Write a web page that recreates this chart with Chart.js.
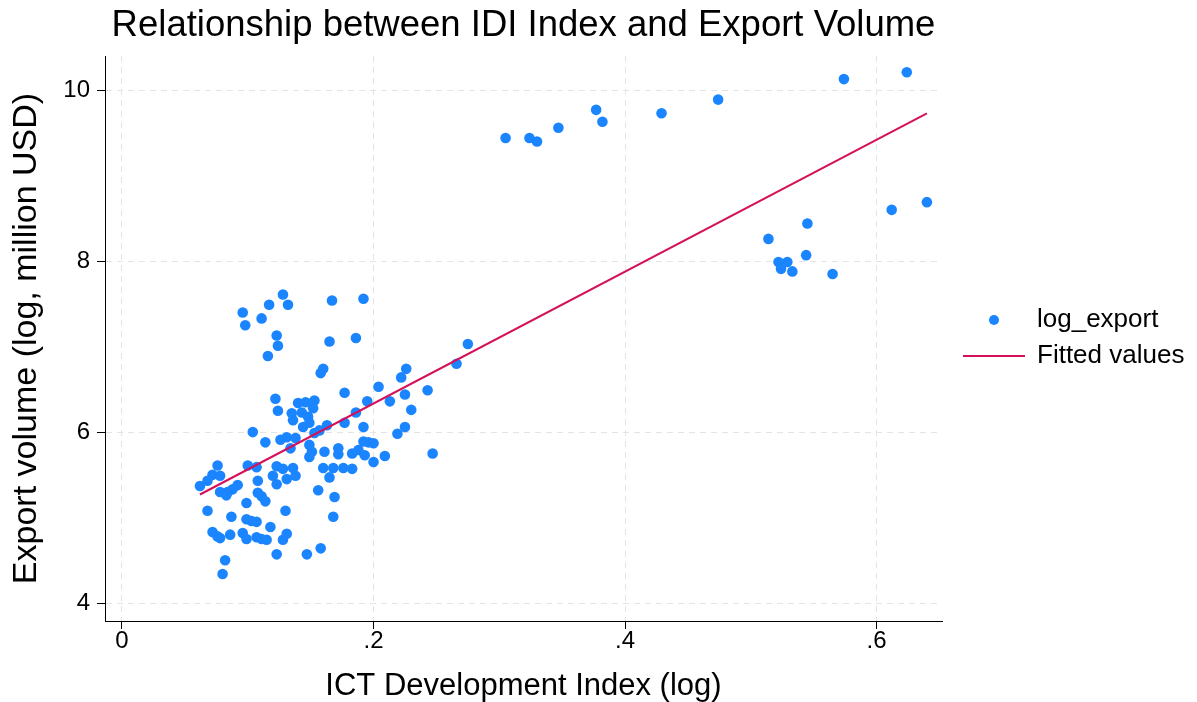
<!DOCTYPE html>
<html>
<head>
<meta charset="utf-8">
<script src="https://cdn.jsdelivr.net/npm/chart.js@4.4.1/dist/chart.umd.min.js"></script>
<style>
  html, body { margin: 0; padding: 0; background: #ffffff; }
  #wrap { width: 1197px; height: 702px; }
</style>
</head>
<body>
<div id="wrap"><canvas id="chart" width="1197" height="702"></canvas></div>
<script>
// ICT Development Index (log) per observation
const idiLog = [
  0.305, 0.324, 0.330, 0.347, 0.377, 0.382, 0.429, 0.474, 0.574, 0.624,
  0.640, 0.612, 0.514, 0.545, 0.544, 0.522, 0.529, 0.524, 0.533, 0.565,
  0.096, 0.098, 0.111, 0.117, 0.128, 0.132, 0.123, 0.124, 0.116, 0.167,
  0.192, 0.165, 0.186, 0.158, 0.160, 0.275, 0.266, 0.226, 0.222, 0.204,
  0.177, 0.243, 0.195, 0.213, 0.225, 0.230, 0.186, 0.122, 0.124, 0.140,
  0.146, 0.153, 0.152, 0.135, 0.143, 0.148, 0.136, 0.149, 0.144, 0.163,
  0.157, 0.177, 0.192, 0.225, 0.219, 0.104, 0.114, 0.126, 0.131, 0.138,
  0.134, 0.149, 0.151, 0.149, 0.161, 0.172, 0.172, 0.192, 0.196, 0.200,
  0.183, 0.188, 0.193, 0.200, 0.209, 0.247, 0.153, 0.076, 0.072, 0.078,
  0.062, 0.068, 0.100, 0.107, 0.123, 0.128, 0.120, 0.123, 0.131, 0.136,
  0.138, 0.108, 0.092, 0.088, 0.084, 0.078, 0.083, 0.111, 0.114, 0.099,
  0.156, 0.169, 0.168, 0.160, 0.165, 0.168, 0.176, 0.183, 0.068, 0.087,
  0.130, 0.099, 0.103, 0.107, 0.118, 0.072, 0.076, 0.078, 0.086, 0.096,
  0.099, 0.107, 0.111, 0.115, 0.128, 0.131, 0.123, 0.147, 0.158, 0.082,
  0.080, 0.108
];

// Export volume (log, million USD) per observation
const logExport = [
  9.44, 9.44, 9.40, 9.56, 9.77, 9.63, 9.73, 9.89, 10.13, 10.21,
  8.69, 8.60, 8.26, 8.44, 8.07, 7.99, 7.99, 7.91, 7.88, 7.85,
  7.40, 7.25, 7.33, 7.49, 7.61, 7.49, 7.13, 7.01, 6.89, 7.54,
  7.56, 7.06, 7.10, 6.69, 6.74, 7.03, 6.80, 6.74, 6.64, 6.53,
  6.46, 6.49, 6.36, 6.36, 6.44, 6.26, 6.23, 6.39, 6.25, 6.34,
  6.35, 6.37, 6.28, 6.22, 6.23, 6.18, 6.14, 6.11, 6.06, 6.08,
  6.02, 6.11, 6.06, 6.06, 5.98, 6.00, 5.88, 5.91, 5.94, 5.93,
  5.81, 5.85, 5.77, 5.71, 5.77, 5.81, 5.74, 5.89, 5.88, 5.87,
  5.75, 5.79, 5.73, 5.65, 5.72, 5.75, 5.99, 5.61, 5.50, 5.49,
  5.37, 5.43, 5.61, 5.59, 5.60, 5.57, 5.49, 5.39, 5.45, 5.58,
  5.49, 5.43, 5.38, 5.33, 5.30, 5.30, 5.26, 5.25, 5.19, 5.17,
  5.32, 5.24, 5.01, 5.58, 5.47, 5.58, 5.58, 5.57, 5.08, 5.01,
  5.08, 4.98, 4.96, 4.95, 4.89, 4.83, 4.78, 4.76, 4.80, 4.82,
  4.75, 4.77, 4.75, 4.74, 4.74, 4.81, 4.57, 4.57, 4.64, 4.50,
  4.34, 5.29
];

// Linear fit endpoints over the observed IDI range
const fitX = [0.062, 0.640];
const fitY = [5.27, 9.73];

// Axis ticks
const xTicks = [0, 0.2, 0.4, 0.6];
const xTickLabels = ['0', '.2', '.4', '.6'];
const yTicks = [4, 6, 8, 10];
const yTickLabels = ['4', '6', '8', '10'];

const seriesNames = ['log_export', 'Fitted values'];

const FONT = "'Liberation Sans', Arial, Helvetica, sans-serif";
const DOT_COLOR = '#1a85ff';
const FIT_COLOR = '#d41159';
const GRID_COLOR = '#e4e4e4';

const scatterPoints = idiLog.map((x, i) => ({ x: x, y: logExport[i] }));
const fitPoints = fitX.map((x, i) => ({ x: x, y: fitY[i] }));

// Legend to the right of the plot: a marker dot and a fit line sample
const sideLegend = {
  id: 'sideLegend',
  afterDraw(chart) {
    const ctx = chart.ctx;
    const area = chart.chartArea;
    const xText = area.right + 95;
    const yDot = 320;
    const yLine = 356;
    ctx.save();
    ctx.fillStyle = DOT_COLOR;
    ctx.beginPath();
    ctx.arc(area.right + 52, yDot, 5, 0, Math.PI * 2);
    ctx.fill();
    ctx.strokeStyle = FIT_COLOR;
    ctx.lineWidth = 2;
    ctx.beginPath();
    ctx.moveTo(area.right + 21, yLine);
    ctx.lineTo(area.right + 83, yLine);
    ctx.stroke();
    ctx.fillStyle = '#000';
    ctx.font = '26px ' + FONT;
    ctx.textAlign = 'left';
    ctx.textBaseline = 'middle';
    ctx.fillText(seriesNames[0], xText, yDot);
    ctx.fillText(seriesNames[1], xText, yLine);
    ctx.restore();
  }
};

const whiteBackground = {
  id: 'whiteBackground',
  beforeDraw(chart) {
    const ctx = chart.ctx;
    ctx.save();
    ctx.fillStyle = '#ffffff';
    ctx.fillRect(0, 0, chart.width, chart.height);
    ctx.restore();
  }
};

const gridOpts = {
  color: GRID_COLOR,
  lineWidth: 1,
  tickLength: 8,
  tickColor: '#000',
  tickBorderDash: [],
  tickWidth: 1
};

new Chart(document.getElementById('chart'), {
  type: 'scatter',
  data: {
    datasets: [
      {
        label: seriesNames[1],
        data: fitPoints,
        showLine: true,
        borderColor: FIT_COLOR,
        borderWidth: 2,
        pointRadius: 0,
        pointHoverRadius: 0,
        fill: false,
        order: 0
      },
      {
        label: seriesNames[0],
        data: scatterPoints,
        backgroundColor: DOT_COLOR,
        borderWidth: 0,
        pointRadius: 5.3,
        pointHoverRadius: 5.3,
        order: 1
      }
    ]
  },
  options: {
    responsive: false,
    animation: false,
    events: [],
    layout: { padding: { left: 0, right: 255, top: 0, bottom: 0 } },
    plugins: {
      legend: { display: false },
      tooltip: { enabled: false },
      title: {
        display: true,
        text: 'Relationship between IDI Index and Export Volume',
        color: '#000',
        fullSize: false,
        font: { family: FONT, size: 36.5, weight: 'normal' },
        padding: { top: 4, bottom: 8.2 }
      }
    },
    scales: {
      x: {
        type: 'linear',
        min: -0.0135,
        max: 0.652,
        afterFit(scale) { scale.height = 81; },
        afterBuildTicks(scale) { scale.ticks = xTicks.map(v => ({ value: v })); },
        ticks: {
          color: '#000',
          padding: 0,
          font: { family: FONT, size: 24, lineHeight: 1 },
          maxRotation: 0,
          callback: (v) => xTickLabels[xTicks.indexOf(v)]
        },
        grid: gridOpts,
        border: { display: true, color: '#000', width: 1, dash: [6, 5] },
        title: {
          display: true,
          text: 'ICT Development Index (log)',
          color: '#000',
          font: { family: FONT, size: 31, lineHeight: 1 },
          padding: { top: 0, bottom: 0 }
        }
      },
      y: {
        type: 'linear',
        min: 3.79,
        max: 10.40,
        afterFit(scale) { scale.width = 105; },
        afterBuildTicks(scale) { scale.ticks = yTicks.map(v => ({ value: v })); },
        ticks: {
          color: '#000',
          padding: 7,
          font: { family: FONT, size: 24 },
          callback: (v) => yTickLabels[yTicks.indexOf(v)]
        },
        grid: gridOpts,
        border: { display: true, color: '#000', width: 1, dash: [6, 5] },
        title: {
          display: true,
          text: 'Export volume (log, million USD)',
          color: '#000',
          font: { family: FONT, size: 34, lineHeight: 1.2 },
          padding: { top: 6, bottom: 0 }
        }
      }
    }
  },
  plugins: [whiteBackground, sideLegend]
});
</script>
</body>
</html>
